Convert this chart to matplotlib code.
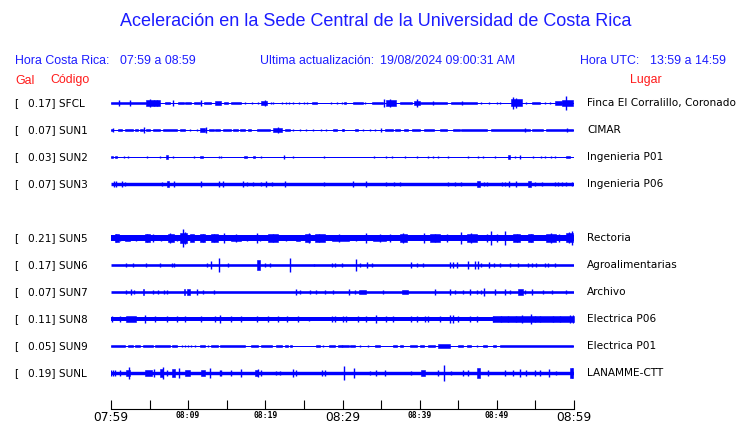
import matplotlib
matplotlib.use('Agg')
import matplotlib.pyplot as plt
from matplotlib import transforms

# station rows (None = empty slot between SUN3 and SUN5)
codes = ['SFCL', 'SUN1', 'SUN2', 'SUN3', None, 'SUN5', 'SUN6', 'SUN7', 'SUN8', 'SUN9', 'SUNL']
peaks = ['0.17', '0.07', '0.03', '0.07', None, '0.21', '0.17', '0.07', '0.11', '0.05', '0.19']
places = ['Finca El Corralillo, Coronado', 'CIMAR', 'Ingenieria P01', 'Ingenieria P06', None,
          'Rectoria', 'Agroalimentarias', 'Archivo', 'Electrica P06', 'Electrica P01', 'LANAMME-CTT']

tick_minutes = list(range(0, 61, 5))
tick_labels = ['07:59', '', '08:09', '', '08:19', '', '08:29', '', '08:39', '', '08:49', '', '08:59']
big_labels = ['07:59', '08:29', '08:59']

# trace amplitudes (half-height, pixels at 27 px per row)
base_half = [0.5, 0.5, 0.5, 1.7, None, 3.0, 1.3, 1.3, 2.0, 0.5, 1.7]

# (start minute, end minute, half amplitude)
SFCL_BLOCKS = [(0.0, 4.6, 1.3), (4.6, 6.3, 2.7), (7.0, 7.6, 1.3), (8.7, 9.5, 1.3), (9.6, 10.4, 1.3),
               (10.7, 11.5, 1.3), (12.0, 13.0, 1.3), (13.5, 14.2, 1.7), (14.7, 15.1, 1.0), (15.6, 16.8, 1.3),
               (19.5, 20.2, 2.0), (26.0, 26.7, 1.3), (30.2, 30.5, 1.3), (31.4, 32.6, 1.3), (33.8, 35.2, 1.3),
               (35.7, 36.9, 2.7), (37.4, 39.0, 1.3), (39.3, 40.0, 2.0), (40.0, 43.5, 1.3), (44.1, 47.4, 1.3),
               (51.9, 53.3, 3.5), (54.6, 55.6, 1.3), (57.5, 58.4, 1.7), (58.5, 59.9, 3.0)]
SUN1_BLOCKS = [(0.0, 0.3, 1.3), (0.9, 1.4, 1.3), (1.8, 2.9, 1.3), (3.1, 3.5, 1.3), (3.8, 4.1, 1.3),
               (4.6, 5.0, 1.3), (5.5, 6.3, 1.3), (6.8, 8.5, 1.3), (8.9, 9.6, 1.3), (11.5, 12.2, 1.7),
               (12.7, 13.3, 1.3), (13.5, 14.1, 1.3), (14.5, 15.6, 1.3), (15.8, 16.5, 1.3), (16.7, 17.4, 1.3),
               (17.8, 18.2, 1.0), (18.9, 20.6, 1.3), (21.0, 22.1, 1.7), (22.5, 23.2, 1.3), (28.8, 29.3, 1.3),
               (29.9, 30.2, 1.0), (31.6, 32.0, 1.0), (35.5, 36.6, 1.3), (36.8, 37.4, 1.3), (38.0, 38.5, 1.3),
               (39.0, 40.0, 1.3), (40.5, 41.8, 1.3), (42.6, 43.5, 1.3), (44.3, 45.2, 1.0), (45.4, 48.7, 1.3),
               (49.3, 54.3, 1.3), (54.5, 56.0, 1.3), (56.4, 59.9, 1.3)]
SUN2_BLOCKS = [(0.0, 0.2, 1.3), (0.5, 0.8, 1.3), (7.1, 7.4, 1.7), (11.5, 11.9, 1.3), (17.3, 17.6, 1.3),
               (18.4, 18.7, 1.3), (51.4, 51.7, 1.7), (59.0, 59.5, 1.0)]
SUN3_BLOCKS = [(7.2, 7.5, 2.7), (47.4, 47.8, 2.7), (54.1, 54.4, 2.7)]
SUN5_BLOCKS = [(0.5, 1.0, 3.6), (1.8, 2.5, 3.3), (4.4, 5.0, 3.6), (7.4, 8.1, 4.0), (8.9, 9.8, 5.0),
               (10.2, 10.7, 3.6), (11.5, 12.2, 3.6), (13.0, 13.9, 3.6), (15.6, 16.9, 3.3), (20.4, 21.7, 3.6),
               (24.0, 24.5, 3.3), (25.1, 25.8, 4.0), (26.4, 27.7, 3.6), (28.6, 30.9, 3.3), (34.0, 35.7, 3.3),
               (37.4, 38.3, 4.0), (41.3, 42.6, 3.6), (46.1, 47.4, 4.0), (52.1, 53.0, 3.6), (54.1, 54.7, 3.6),
               (56.4, 57.7, 4.0), (59.0, 59.9, 4.5)]
SUN6_BLOCKS = [(18.9, 19.3, 5.0)]
SUN7_BLOCKS = [(4.1, 4.3, 2.7), (9.4, 9.6, 2.7), (9.9, 10.2, 2.7), (32.2, 33.1, 1.7), (37.7, 38.5, 1.7),
               (52.8, 53.4, 2.7)]
SUN8_BLOCKS = [(2.0, 3.2, 2.7), (49.5, 60.0, 2.7)]
SUN9_BLOCKS = [(0.0, 1.8, 1.3), (2.2, 2.9, 1.3), (3.1, 3.8, 1.3), (4.2, 5.5, 1.3), (5.7, 7.6, 1.3),
               (7.9, 8.5, 1.3), (11.5, 12.2, 1.3), (13.0, 13.9, 1.3), (14.1, 17.4, 1.3), (18.2, 19.1, 1.3),
               (19.5, 20.8, 1.3), (21.4, 22.1, 1.3), (22.5, 22.9, 1.3), (23.2, 23.4, 1.3), (26.6, 27.1, 1.3),
               (28.2, 29.0, 1.3), (29.4, 30.9, 1.3), (31.0, 31.6, 1.3), (34.2, 34.8, 1.3), (36.6, 37.0, 1.3),
               (37.4, 37.9, 1.3), (38.7, 39.6, 1.3), (40.0, 40.5, 1.3), (41.1, 42.0, 1.3), (42.4, 43.9, 1.7),
               (45.0, 45.6, 1.3), (46.1, 46.7, 1.3), (48.2, 48.7, 1.3), (49.5, 49.9, 1.3), (50.4, 59.9, 1.3)]
SUNL_BLOCKS = [(2.0, 2.5, 3.3), (4.4, 5.3, 2.7), (6.3, 6.8, 4.0), (7.9, 8.3, 4.0), (9.6, 10.2, 2.7),
               (11.7, 12.2, 3.3), (18.6, 19.0, 3.3), (40.2, 40.7, 3.3), (47.4, 47.8, 5.0), (59.5, 59.9, 5.0)]

# (minute, half amplitude)
SFCL_SPIKES = [(1.1, 2.7), (2.4, 2.7), (5.05, 4.3), (5.6, 3.3), (6.0, 3.3), (8.0, 2.7), (11.7, 2.7),
               (17.4, 1.3), (18.3, 0.7), (19.1, 1.3), (19.9, 3.3), (20.7, 1.3), (21.0, 1.3), (22.1, 1.3),
               (22.7, 1.3), (23.1, 1.3), (23.6, 1.0), (24.4, 1.3), (25.0, 1.0), (25.4, 1.3), (28.5, 1.3),
               (29.3, 1.0), (29.9, 1.0), (32.9, 1.0), (35.4, 4.0), (36.1, 4.0), (39.7, 4.3), (41.7, 2.3),
               (45.5, 2.3), (48.0, 1.0), (49.0, 1.0), (50.0, 1.0), (50.4, 1.0), (52.1, 6.0), (52.5, 5.0),
               (53.8, 1.3), (56.2, 1.0), (56.9, 1.3), (59.0, 6.7)]
SUN1_SPIKES = [(0.3, 1.7), (4.3, 3.3), (10.2, 1.0), (11.1, 1.0), (12.3, 2.7), (21.7, 3.3), (23.6, 1.0),
               (24.5, 1.0), (25.3, 1.0), (26.2, 1.3), (27.2, 1.0), (27.9, 1.0), (30.1, 1.0), (32.7, 1.0),
               (33.5, 1.0), (34.2, 1.0), (35.0, 2.0), (53.7, 2.0), (59.1, 2.0)]
SUN2_SPIKES = [(1.7, 1.3), (2.2, 1.0), (4.7, 1.0), (6.3, 1.0), (8.0, 1.3), (10.7, 1.3), (14.0, 1.3),
               (14.2, 1.3), (19.5, 1.0), (22.4, 1.7), (23.6, 1.0), (27.6, 1.3), (34.1, 1.0), (35.6, 1.3),
               (36.4, 1.0), (38.1, 1.0), (39.6, 1.0), (41.1, 1.0), (41.7, 1.3), (42.4, 1.0), (43.7, 1.3),
               (46.2, 1.0), (47.5, 1.3), (48.2, 1.0), (49.7, 1.0), (52.3, 1.0), (53.0, 1.7), (54.7, 1.0),
               (55.7, 1.0), (56.3, 1.0), (57.0, 1.0), (57.6, 1.3)]
SUN3_SPIKES = [(0.4, 2.7), (0.7, 2.7), (1.4, 2.7), (1.8, 2.3), (6.6, 2.3), (8.1, 2.7), (11.6, 2.7),
               (14.0, 2.7), (14.5, 2.7), (17.1, 2.7), (17.6, 2.3), (18.4, 2.3), (19.4, 2.3), (20.1, 2.7),
               (20.8, 2.3), (22.5, 2.7), (27.6, 2.3), (31.4, 2.7), (33.1, 2.7), (35.6, 2.3), (36.7, 2.3),
               (37.5, 2.3), (43.7, 2.3), (44.6, 2.3), (45.3, 2.3), (48.3, 2.3), (48.7, 2.3), (50.7, 2.3),
               (51.0, 2.3), (51.6, 3.3), (52.5, 2.7), (54.9, 2.3), (55.9, 2.3), (57.6, 2.3), (57.9, 2.3),
               (58.4, 2.3), (59.0, 2.3), (59.7, 2.3)]
SUN5_SPIKES = [(0.7, 4.0), (1.2, 3.3), (3.3, 3.3), (4.7, 4.0), (5.5, 4.0), (6.5, 3.3), (7.7, 5.0),
               (8.5, 3.3), (9.3, 9.3), (9.6, 6.0), (11.9, 4.0), (13.4, 4.0), (14.6, 5.0), (16.2, 3.6),
               (17.6, 3.3), (18.9, 5.0), (19.3, 3.3), (21.0, 4.0), (22.7, 3.3), (25.6, 5.0), (27.0, 4.0),
               (29.5, 3.6), (31.8, 3.3), (33.1, 5.0), (34.8, 3.6), (36.1, 4.0), (37.9, 5.0), (40.5, 5.0),
               (42.0, 4.0), (43.5, 4.0), (45.4, 6.0), (46.7, 5.0), (48.7, 4.0), (49.2, 6.7), (50.0, 4.0),
               (51.1, 6.7), (52.6, 4.0), (54.4, 4.0), (57.0, 5.0), (58.0, 4.0), (59.3, 5.5), (59.7, 7.3)]
SUN6_SPIKES = [(2.0, 2.0), (2.9, 1.7), (4.6, 2.0), (6.3, 1.7), (7.9, 1.7), (8.1, 1.7), (12.4, 1.7),
               (12.9, 4.0), (14.0, 7.3), (15.2, 2.0), (19.9, 2.0), (20.6, 2.3), (23.2, 6.7), (26.3, 1.3),
               (28.6, 1.7), (29.0, 1.7), (29.9, 1.7), (31.7, 6.0), (32.3, 2.0), (33.2, 3.3), (33.8, 2.0),
               (38.9, 2.7), (39.6, 1.7), (40.4, 1.7), (43.9, 2.7), (44.3, 3.3), (44.8, 2.7), (46.3, 4.0),
               (47.2, 4.0), (47.5, 4.0), (48.0, 2.0), (49.0, 2.7), (49.6, 1.7), (50.4, 1.7), (51.7, 2.0),
               (52.8, 1.7), (54.1, 1.7), (54.5, 1.7), (55.1, 1.7), (56.2, 1.7), (56.6, 1.7), (57.5, 2.0)]
SUN7_SPIKES = [(1.9, 2.0), (2.6, 2.7), (3.0, 2.0), (5.5, 2.0), (6.1, 1.7), (6.9, 1.7), (7.3, 1.7),
               (11.2, 3.3), (11.9, 2.0), (13.3, 2.0), (24.0, 2.7), (24.5, 2.0), (25.8, 2.0), (26.6, 2.0),
               (27.7, 1.7), (28.8, 1.7), (30.9, 3.3), (31.6, 2.0), (35.2, 1.7), (42.0, 2.7), (43.9, 2.7),
               (44.6, 2.0), (45.6, 2.0), (46.5, 2.7), (47.4, 2.0), (48.0, 2.0), (48.4, 4.0), (49.7, 2.7),
               (51.1, 2.7), (51.7, 2.0), (53.6, 2.0), (54.5, 2.7), (56.0, 2.0), (57.2, 2.0), (59.0, 2.0)]
SUN8_SPIKES = [(0.1, 3.3), (1.2, 3.3), (4.4, 4.0), (5.7, 3.3), (7.2, 3.3), (8.5, 2.7), (9.6, 2.7),
               (11.7, 2.7), (13.5, 2.7), (14.1, 4.0), (15.6, 3.3), (16.9, 2.7), (18.9, 3.3), (20.4, 2.7),
               (21.7, 2.7), (22.8, 2.7), (24.2, 2.7), (25.7, 2.0), (28.6, 3.3), (29.0, 2.7), (30.1, 2.7),
               (30.5, 2.7), (32.0, 3.3), (33.1, 2.7), (34.3, 4.0), (35.7, 2.7), (36.6, 2.7), (38.9, 3.3),
               (39.6, 2.7), (40.7, 3.3), (41.1, 3.3), (42.6, 3.3), (43.9, 4.0), (44.3, 4.0), (45.0, 2.7),
               (46.5, 3.3), (47.4, 2.7), (49.5, 3.3), (50.5, 3.3), (51.5, 3.3), (52.5, 3.3), (53.3, 4.0),
               (54.4, 5.0), (54.9, 3.3), (55.6, 3.3), (57.3, 3.3), (58.2, 3.3), (59.5, 4.0), (59.9, 4.0)]
SUN9_SPIKES = [(9.2, 1.3), (9.6, 1.3), (10.0, 1.3), (10.4, 1.3), (10.9, 1.3), (12.6, 1.3), (27.5, 1.3),
               (29.9, 1.3), (32.3, 1.3), (33.3, 1.3), (47.4, 1.3)]
SUNL_SPIKES = [(0.0, 3.3), (0.3, 2.7), (0.5, 3.3), (1.2, 3.3), (2.3, 6.0), (5.6, 4.0), (6.8, 6.0),
               (7.2, 3.3), (8.8, 5.0), (12.8, 5.0), (14.1, 3.3), (14.3, 3.3), (15.6, 2.7), (16.9, 4.0),
               (19.0, 4.0), (19.4, 2.7), (21.4, 2.0), (21.9, 2.0), (23.6, 4.0), (24.0, 2.7), (27.3, 3.3),
               (27.7, 2.7), (30.2, 6.7), (31.5, 5.0), (33.5, 2.0), (34.4, 2.7), (35.5, 2.7), (38.9, 2.0),
               (42.4, 3.3), (43.2, 8.3), (44.1, 2.0), (45.6, 3.3), (46.3, 2.7), (48.9, 3.3), (51.0, 2.7),
               (52.1, 2.7), (53.0, 4.0), (53.8, 2.7), (54.9, 2.7), (55.6, 2.7), (56.8, 4.0), (57.7, 2.0),
               (59.7, 5.0)]

blocks = [SFCL_BLOCKS, SUN1_BLOCKS, SUN2_BLOCKS, SUN3_BLOCKS, None, SUN5_BLOCKS, SUN6_BLOCKS,
          SUN7_BLOCKS, SUN8_BLOCKS, SUN9_BLOCKS, SUNL_BLOCKS]
spikes = [SFCL_SPIKES, SUN1_SPIKES, SUN2_SPIKES, SUN3_SPIKES, None, SUN5_SPIKES, SUN6_SPIKES,
          SUN7_SPIKES, SUN8_SPIKES, SUN9_SPIKES, SUNL_SPIKES]

W, H = 740, 423
ROW_PX = 27.0
BLUE = '#0000ff'
TXT_BLUE = '#1c1cff'
RED = '#ff1a1a'

fig = plt.figure(figsize=(W / 100, H / 100), dpi=100)
fig.patch.set_facecolor('white')

# trace axes: x from px 111 to 574, bottom axis line at px 409, top at px 90
ax = fig.add_axes([111 / W, 1 - 409 / H, 463 / W, (409 - 90) / H])
ax.set_xlim(0, 60)
top_row = -(103 - 90) / ROW_PX
ax.set_ylim(top_row + (409 - 90) / ROW_PX, top_row)
ax.patch.set_alpha(0)
for s in ['top', 'left', 'right']:
    ax.spines[s].set_visible(False)
ax.spines['bottom'].set_linewidth(0.8)
ax.set_yticks([])
ax.set_xticks(tick_minutes)
ax.set_xticklabels(tick_labels)
ax.tick_params(axis='x', direction='in', length=6.5, width=0.8, pad=1.5, colors='black')
for lab in ax.get_xticklabels():
    if lab.get_text() in big_labels:
        lab.set_fontfamily('DejaVu Sans')
        lab.set_fontsize(8.8)
    else:
        lab.set_fontfamily('DejaVu Sans Mono')
        lab.set_fontsize(5.8)
        lab.set_fontweight('bold')

px2row = 1.0 / ROW_PX
for i, code in enumerate(codes):
    if code is None:
        continue
    y = i
    # base trace: line width in points from its pixel thickness
    ax.hlines(y, 0, 60, color=BLUE, lw=max(2 * base_half[i], 1.0) * 0.72)
    for t0, t1, a in blocks[i]:
        ax.fill_between([t0, t1], y - a * px2row, y + a * px2row, color=BLUE, lw=0.4)
    for t, a in spikes[i]:
        ax.vlines(t, y - a * px2row, y + a * px2row, color=BLUE, lw=1.0)

# row labels, station names and places
tr = transforms.blended_transform_factory(fig.transFigure, ax.transData)
for i, code in enumerate(codes):
    if code is None:
        continue
    ax.text(14 / W, i, '[', transform=tr, fontsize=7.6, family='DejaVu Sans', va='center', ha='left')
    ax.text(27.5 / W, i, f'{peaks[i]}] {code}', transform=tr, fontsize=7.6, family='DejaVu Sans',
            va='center', ha='left')
    ax.text(587 / W, i, places[i], transform=tr, fontsize=7.6, family='DejaVu Sans',
            va='center', ha='left')


def fx(x):
    return x / W


def fy(y):
    return 1 - y / H


SANS = 'Liberation Sans'
fig.text(fx(376), fy(22), 'Aceleración en la Sede Central de la Universidad de Costa Rica',
         ha='center', va='center', fontsize=13.0, family=SANS, color=TXT_BLUE)

fig.text(fx(15), fy(60.5), 'Hora Costa Rica:', fontsize=8.9, family=SANS, color=TXT_BLUE, va='center')
fig.text(fx(120), fy(60.5), '07:59 a 08:59', fontsize=8.9, family=SANS, color=TXT_BLUE, va='center')
fig.text(fx(260), fy(60.5), 'Ultima actualización:', fontsize=8.9, family=SANS, color=TXT_BLUE, va='center')
fig.text(fx(380), fy(60.5), '19/08/2024 09:00:31 AM', fontsize=8.9, family=SANS, color=TXT_BLUE, va='center')
fig.text(fx(580.5), fy(60.5), 'Hora UTC:', fontsize=8.9, family=SANS, color=TXT_BLUE, va='center')
fig.text(fx(650.5), fy(60.5), '13:59 a 14:59', fontsize=8.9, family=SANS, color=TXT_BLUE, va='center')

fig.text(fx(15), fy(80.5), 'Gal', fontsize=8.9, family=SANS, color=RED, va='center')
fig.text(fx(50), fy(80.5), 'Código', fontsize=8.9, family=SANS, color=RED, va='center')
fig.text(fx(630), fy(80.5), 'Lugar', fontsize=8.9, family=SANS, color=RED, va='center')

fig.savefig('out.png', dpi=100, facecolor='white')
